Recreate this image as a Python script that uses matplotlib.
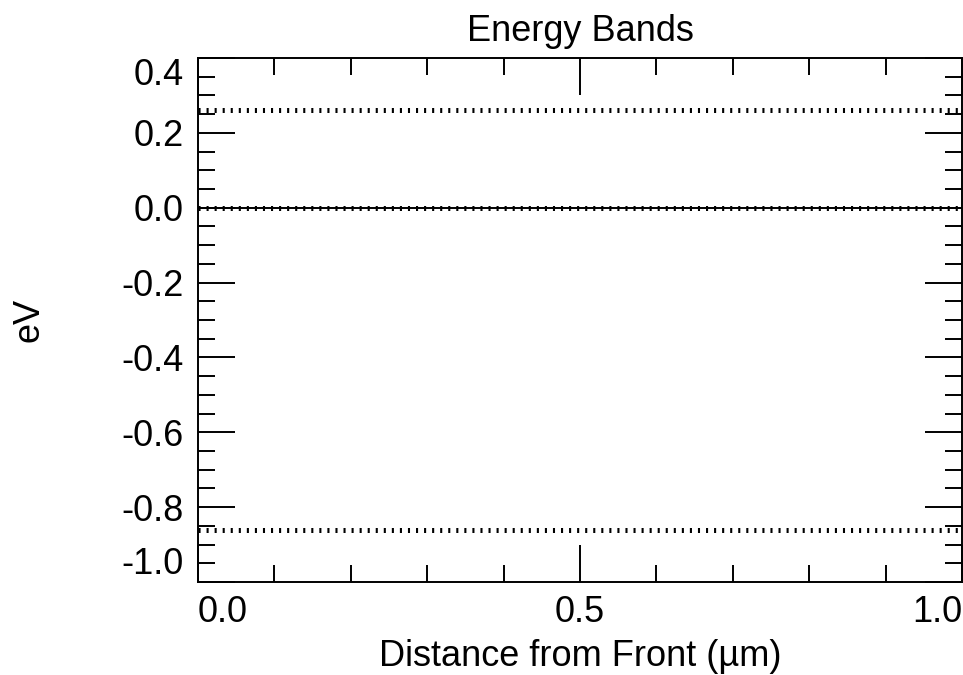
import numpy as np
import matplotlib
matplotlib.use("Agg")
import matplotlib.pyplot as plt
from matplotlib.ticker import MultipleLocator, FixedFormatter, FixedLocator

plt.rcParams['font.family'] = ['Liberation Sans', 'DejaVu Sans']
plt.rcParams['lines.scale_dashes'] = False

# band data
distance = [0.0, 1.0]
band_upper = [0.26, 0.26]
fermi = [0.0, 0.0]
quasi_fermi = [0.0, 0.0]
band_lower = [-0.86, -0.86]

x_ticks = [0.0, 0.5, 1.0]
x_labels = ["0.0", "0.5", "1.0"]
y_ticks = [-1.0, -0.8, -0.6, -0.4, -0.2, 0.0, 0.2, 0.4]
y_labels = ["-1.0", "-0.8", "-0.6", "-0.4", "-0.2", "0.0", "0.2", "0.4"]

fs = 26

fig = plt.figure(figsize=(9.63, 6.75), dpi=100)
ax = fig.add_axes([198/963, 93/675, 764/963, 524/675])

dots = dict(color='black', lw=3.6, dashes=(1.5, 4.3), solid_capstyle='butt', dash_capstyle='butt')
ax.plot(distance, fermi, color='black', lw=1.4)
ax.plot(distance, band_upper, **dots)
ax.plot(distance, quasi_fermi, **dots)
ax.plot(distance, band_lower, **dots)

ax.set_xlim(0, 1.0)
ax.set_ylim(-1.0, 0.4)

ax.xaxis.set_major_locator(FixedLocator(x_ticks))
ax.xaxis.set_major_formatter(FixedFormatter(x_labels))
ax.xaxis.set_minor_locator(MultipleLocator(0.1))
ax.yaxis.set_major_locator(FixedLocator(y_ticks))
ax.yaxis.set_major_formatter(FixedFormatter(y_labels))
ax.yaxis.set_minor_locator(MultipleLocator(0.05))

ax.tick_params(which='both', direction='in', top=True, right=True, width=1.4, colors='black')
ax.tick_params(which='major', length=26.5)
ax.tick_params(which='minor', length=12.2)
ax.tick_params(axis='y', which='major', pad=10.5, labelsize=fs)
ax.tick_params(axis='x', which='major', pad=9.5, labelsize=fs)
for s in ax.spines.values():
    s.set_linewidth(1.4)

xl = ax.get_xticklabels()
xl[0].set_horizontalalignment('left')
xl[-1].set_horizontalalignment('right')
yl = ax.get_yticklabels()
yl[0].set_verticalalignment('bottom')
yl[-1].set_verticalalignment('top')

ax.set_title("Energy Bands", fontsize=fs, pad=12)
ax.set_xlabel("Distance from Front (µm)", fontsize=fs, labelpad=6)
ax.set_ylabel("eV", fontsize=fs, labelpad=54)

fig.savefig("out.png", dpi=100)
